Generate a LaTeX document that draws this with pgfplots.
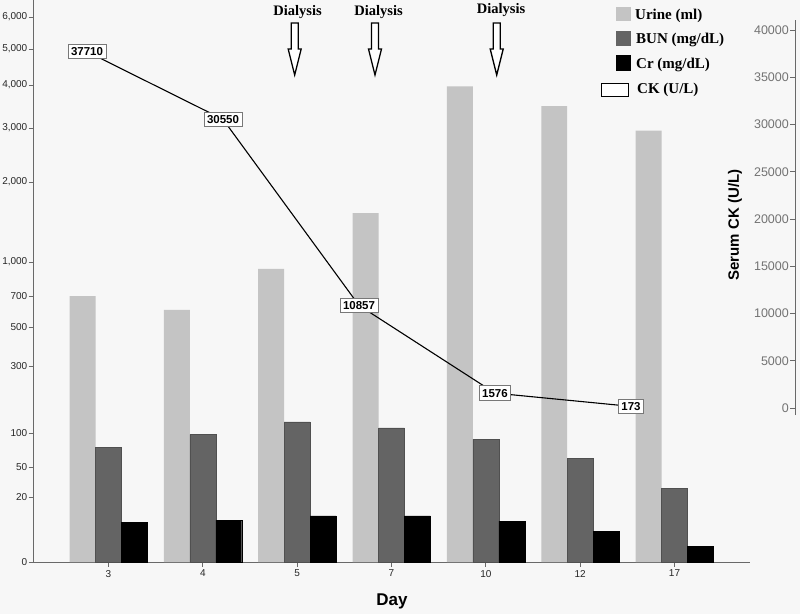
\documentclass[border=0pt]{standalone}
\usepackage{pgfplots}
\usepackage{pgfplotstable}
\pgfplotsset{compat=1.18}
\usepackage{fontspec}
\setmainfont{Liberation Sans}
\newfontfamily\tnr{Liberation Serif}
\definecolor{bgcol}{RGB}{247,247,247}
\definecolor{urine}{RGB}{196,196,196}
\definecolor{bun}{RGB}{100,100,100}
\definecolor{axgray}{RGB}{105,105,105}
\definecolor{labgray}{RGB}{120,120,120}

\pgfplotstableread{
i urine bun cr
0 700 79 12.3
1 610 98 12.9
2 940 133 14.2
3 1610 115 14.2
4 3970 91 12.6
5 3510 63 9.5
6 2950 29 4.9
}\bars

\pgfplotstableread{
x y lab
1 37710 37710
2 30550 30550
3 10857 10857
4 1576 1576
5 173 173
}\ck

\newcommand\darrow[1]{%
  \draw[black, line width=1.3pt, fill=white, line join=miter]
    (#1-3.5,591) -- (#1+3.5,591) -- (#1+3.5,565) -- (#1+6.5,565) -- (#1,539)
    -- (#1-6.5,565) -- (#1-3.5,565) -- cycle;}

\begin{document}
\begin{tikzpicture}[x=1pt,y=1pt]
\fill[bgcol] (0,0) rectangle (800,614);

\begin{axis}[
  at={(33pt,52pt)}, anchor=south west,
  scale only axis, width=717pt, height=562pt,
  xmin=-0.8, xmax=6.8, ymin=0, ymax=562,
  axis x line*=bottom, axis y line*=left,
  axis line style={-, draw=axgray, line width=0.9pt},
  xtick={0,...,6}, xticklabels={3,4,5,7,10,12,17},
  ytick={0,65,95,129,196,235,266,300,380,434,477,513,545},
  yticklabels={0,20,50,100,300,500,700,{1,000},{2,000},{3,000},{4,000},{5,000},{6,000}},
  tick align=outside, major tick length=4.5pt,
  tick style={draw=axgray, line width=0.9pt},
  tick label style={font=\fontsize{10}{12}\selectfont, text=black!85},
  yticklabel style={inner xsep=1pt},
  /pgf/number format/assume math mode=true,
  clip=false,
  declare function={
    sc(\v)=min(3.25*\v, min(45+\v, min(61+0.68*\v, min(95.5+0.335*\v,
      min(137.5+0.195*\v, min(157.5+0.155*\v, min(186.67+0.11333*\v,
      min(220+0.08*\v, min(272+0.054*\v, min(305+0.043*\v,
      min(333+0.036*\v, 353+0.032*\v)))))))))));
  },
]
\addplot[ybar, bar width=0.275, bar shift=-0.275, fill=urine, draw=none]
  table[x=i, y expr={sc(\thisrow{urine})}] {\bars};
\addplot[ybar, bar width=0.275, bar shift=0, fill=bun, draw=bun!80!black]
  table[x=i, y expr={sc(\thisrow{bun})}] {\bars};
\addplot[ybar, bar width=0.275, bar shift=0.275, fill=black, draw=black]
  table[x=i, y expr={sc(\thisrow{cr})}] {\bars};
\end{axis}

\begin{axis}[
  at={(33pt,199pt)}, anchor=south west,
  scale only axis, width=762pt, height=395pt,
  xmin=0.603, xmax=6.206, ymin=-740, ymax=41060,
  hide x axis, axis y line*=right,
  axis line style={-, draw=axgray, line width=0.9pt},
  ytick={0,5000,...,40000}, scaled y ticks=false,
  tick align=inside, major tick length=5pt,
  tick style={draw=axgray, line width=0.9pt},
  yticklabel style={anchor=east, xshift=-6pt, inner sep=0pt,
    font=\fontsize{12.5}{14}\selectfont, text=black!55},
  /pgf/number format/1000 sep={},
  /pgf/number format/assume math mode=true,
]
\addplot[black, line width=1.1pt, mark=none, nodes near coords,
  point meta=explicit symbolic,
  every node near coord/.style={anchor=center, draw=labgray, fill=white,
    line width=0.9pt, font=\bfseries\fontsize{11.5}{13}\selectfont,
    inner xsep=3pt, inner ysep=2pt, minimum height=14.5pt}]
  table[x=x, y=y, meta=lab] {\ck};
\end{axis}

% axis titles
\node[font=\bfseries\fontsize{17}{20}\selectfont, anchor=base] at (392,9) {Day};
\node[font=\bfseries\fontsize{15}{17}\selectfont, rotate=90, anchor=center] at (735,389) {Serum CK (U/L)};

% dialysis annotations
\darrow{294.7}\darrow{375}\darrow{496.7}
\node[font=\tnr\bfseries\fontsize{14.5}{16}\selectfont] at (297.5,602) {Dialysis};
\node[font=\tnr\bfseries\fontsize{14.5}{16}\selectfont] at (378.5,602) {Dialysis};
\node[font=\tnr\bfseries\fontsize{14.5}{16}\selectfont] at (501,604) {Dialysis};

% legend
\fill[urine] (616,593) rectangle (631,607);
\fill[bun] (616,568) rectangle (631,583);
\fill[black] (616,543) rectangle (631,559);
\draw[black, line width=1.2pt, fill=white] (601.5,517.5) rectangle (628.5,530.5);
\begin{scope}[every node/.style={anchor=base west, inner sep=0pt, font=\tnr\bfseries\fontsize{15}{17}\selectfont}]
\node at (635,594.5) {Urine (ml)};
\node at (636,570) {BUN (mg/dL)};
\node at (636,545.5) {Cr (mg/dL)};
\node at (637,520) {CK (U/L)};
\end{scope}

\pgfresetboundingbox
\path[use as bounding box] (0,0) rectangle (800,614);
\end{tikzpicture}
\end{document}
